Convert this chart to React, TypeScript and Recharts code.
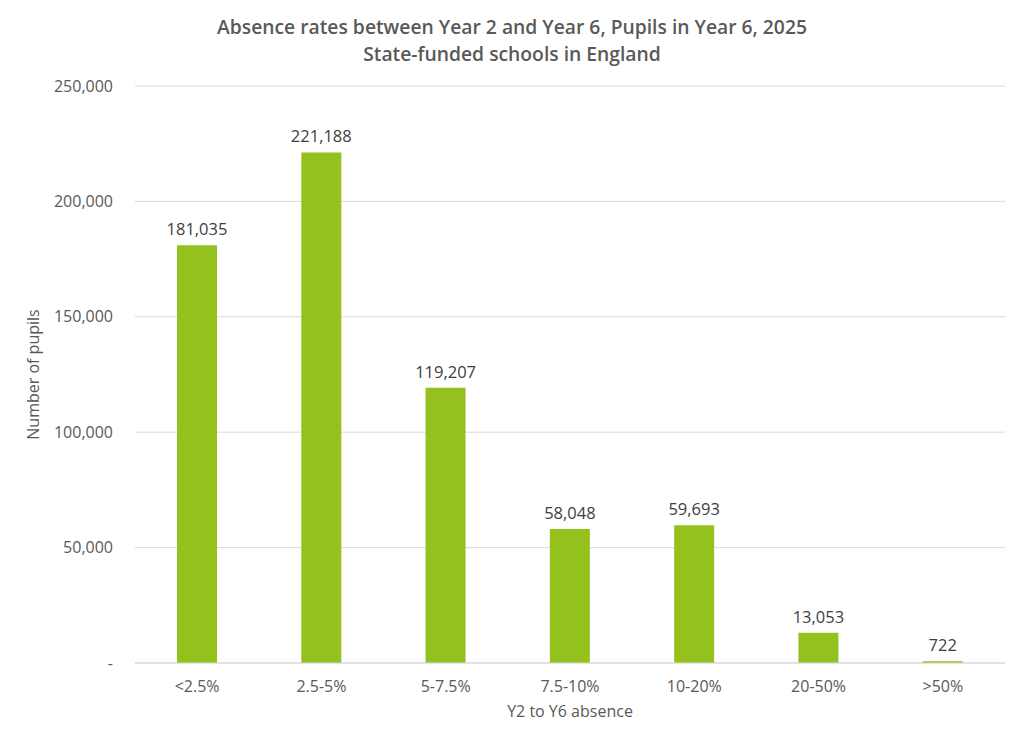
import React from 'react';
import { BarChart, Bar, XAxis, YAxis, CartesianGrid, LabelList, Label } from 'recharts';

const categories = ['<2.5%', '2.5-5%', '5-7.5%', '7.5-10%', '10-20%', '20-50%', '>50%'];
const pupils = [181035, 221188, 119207, 58048, 59693, 13053, 722];
const yTicks = [0, 50000, 100000, 150000, 200000, 250000];

const data = categories.map((c, i) => ({ name: c, value: pupils[i] }));

const FONT = '"Open Sans", Lato, sans-serif';
const fmt = (v: number) => (v === 0 ? '-' : v.toLocaleString('en-GB'));

export default function App() {
  return (
    <div style={{ position: 'relative', width: 1016, height: 735, fontFamily: FONT, background: '#fff' }}>
      <div style={{ position: 'absolute', left: 0, top: 5, width: 1008, textAlign: 'center', color: '#595959', fontWeight: 600, fontSize: 19.3, lineHeight: '27px' }}>
        <div>Absence rates between Year 2 and Year 6, Pupils in Year 6, 2025</div>
        <div>State-funded schools in England</div>
      </div>
      <BarChart width={1016} height={735} data={data} margin={{ top: 78, right: 19, bottom: 20, left: 0 }} barSize={40}>
        <CartesianGrid vertical={false} stroke="#d9d9d9" />
        <XAxis dataKey="name" height={60} tickLine={false} axisLine={{ stroke: '#d9d9d9' }} tickMargin={12}
          tick={{ fill: '#595959', fontSize: 16, fontFamily: FONT }}>
          <Label value="Y2 to Y6 absence" position="insideBottom" offset={6} style={{ fill: '#595959', fontSize: 16, fontFamily: FONT }} />
        </XAxis>
        <YAxis width={127} domain={[0, 250000]} ticks={yTicks} tickFormatter={fmt} tickLine={false} axisLine={false} tickMargin={16}
          tick={{ fill: '#595959', fontSize: 16, fontFamily: FONT }}>
          <Label value="Number of pupils" angle={-90} position="insideLeft" offset={25} style={{ fill: '#595959', fontSize: 16, fontFamily: FONT, textAnchor: 'middle' }} />
        </YAxis>
        <Bar dataKey="value" fill="#95c11f" isAnimationActive={false}>
          <LabelList dataKey="value" position="top" offset={10} formatter={(v: number) => v.toLocaleString('en-GB')}
            style={{ fill: '#404040', fontSize: 16.5, fontFamily: FONT }} />
        </Bar>
      </BarChart>
    </div>
  );
}
